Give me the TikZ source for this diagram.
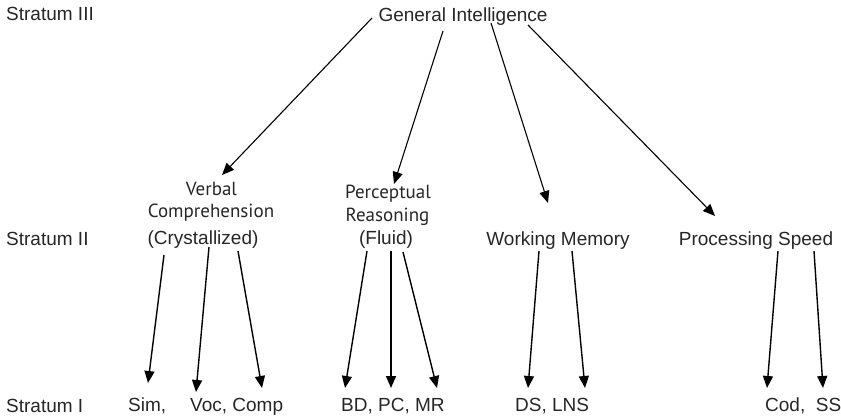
\documentclass[tikz,border=0pt]{standalone}
\usepackage{fontspec}
\setmainfont{Liberation Sans}
\newfontfamily\humanist{PT Sans}
\usetikzlibrary{arrows.meta}
\definecolor{ink}{HTML}{262626}
\tikzset{
  lbl/.style={inner sep=0pt, text=ink, font=\fontsize{19}{22}\selectfont},
  lblsm/.style={lbl, font=\humanist\fontsize{19}{22}\selectfont},
  toparr/.style={draw=black, line width=1.1pt, -{Triangle[length=12pt,width=10pt]}},
  lowarr/.style={draw=black, line width=1.4pt, -{Triangle[length=12pt,width=10pt]}}
}
\begin{document}
\begin{tikzpicture}[x=1pt, y=-1pt]
\useasboundingbox (0,0) rectangle (841,417);

% stratum labels
\node[lbl, anchor=base west] (s3) at (6,21) {Stratum III};
\node[lbl, anchor=base west] (s2) at (6,245) {Stratum II};
\node[lbl, anchor=base west] (s1) at (6,412) {Stratum I};

% stratum III
\node[lbl, anchor=base] (gi) at (463,22) {General Intelligence};

% stratum II
\node[lblsm, anchor=base] (vc1) at (211.5,195) {Verbal};
\node[lblsm, anchor=base] (vc2) at (211,217) {Comprehension};
\node[lbl, anchor=base] (vc) at (203,244) {(Crystallized)};
\node[lblsm, anchor=base] (pr1) at (388,199) {Perceptual};
\node[lblsm, anchor=base] (pr2) at (387.5,222) {Reasoning};
\node[lbl, anchor=base] (pr) at (386,244) {(Fluid)};
\node[lbl, anchor=base] (wm) at (558,245) {Working Memory};
\node[lbl, anchor=base] (ps) at (756,245) {Processing Speed};

% stratum I
\node[lbl, anchor=base west] (sim) at (128,411) {Sim,};
\node[lbl, anchor=base west] (voc) at (190,411) {Voc, Comp};
\node[lbl, anchor=base west] (bd) at (341,411) {BD, PC, MR};
\node[lbl, anchor=base west] (ds) at (515,411) {DS, LNS};
\node[lbl, anchor=base west] (cod) at (765,411) {Cod,\ \ SS};

% g -> broad abilities
\draw[toparr] ([shift={(-91,-4)}]gi.base) -- ([shift={(10.5,-20)}]vc1.base);
\draw[toparr] ([shift={(-20,9)}]gi.base) -- ([shift={(6,-15)}]pr1.base);
\draw[toparr] ([shift={(28,1)}]gi.base) -- ([shift={(-10,-42)}]wm.base);
\draw[toparr] ([shift={(65,3)}]gi.base) -- ([shift={(-41,-29)}]ps.base);

% broad abilities -> subtests
\draw[lowarr] ([shift={(-39,11)}]vc.base) -- ([shift={(20,-28)}]sim.base west);
\draw[lowarr] ([shift={(6,3)}]vc.base) -- ([shift={(6,-19)}]voc.base west);
\draw[lowarr] ([shift={(35,7)}]vc.base) -- ([shift={(72,-23)}]voc.base west);

\draw[lowarr] ([shift={(-19,7)}]pr.base) -- ([shift={(4,-23)}]bd.base west);
\draw[lowarr] ([shift={(5,7)}]pr.base) -- ([shift={(50,-23)}]bd.base west);
\draw[lowarr] ([shift={(17,8)}]pr.base) -- ([shift={(96,-23)}]bd.base west);

\draw[lowarr] ([shift={(-19,6)}]wm.base) -- ([shift={(13,-23)}]ds.base west);
\draw[lowarr] ([shift={(14,6)}]wm.base) -- ([shift={(70,-23)}]ds.base west);

\draw[lowarr] ([shift={(22,6)}]ps.base) -- ([shift={(2,-23)}]cod.base west);
\draw[lowarr] ([shift={(58,6)}]ps.base) -- ([shift={(58,-23)}]cod.base west);
\end{tikzpicture}
\end{document}
